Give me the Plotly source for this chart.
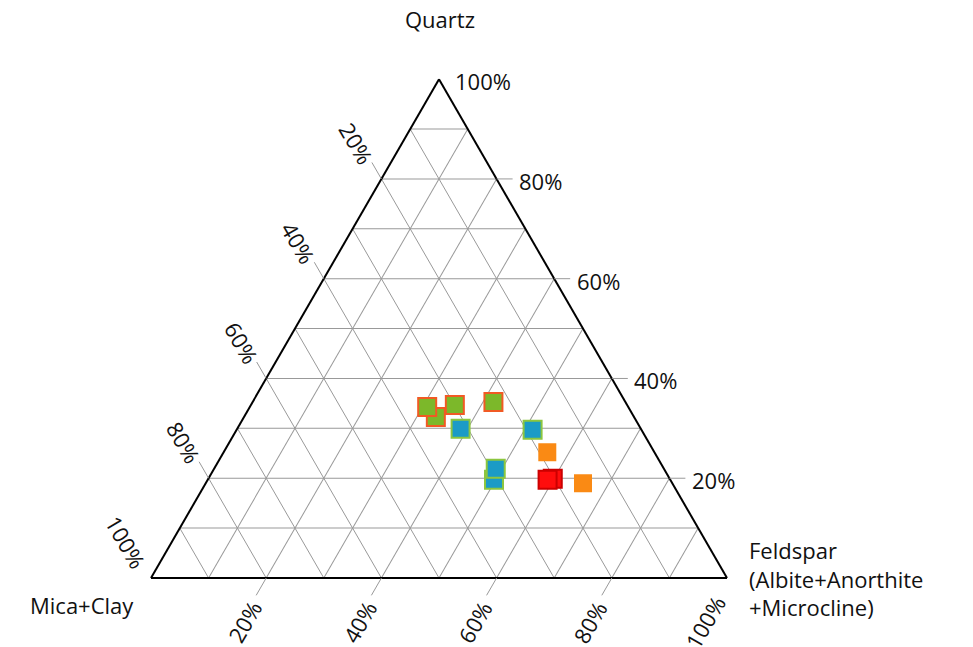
import math
import plotly.graph_objects as go

# ---------------- data (percent) ----------------
# Series 1: green squares with orange-red border
g1_quartz = [32.3, 34.3, 34.7, 35.3]
g1_mica = [34.4, 34.9, 29.9, 22.9]
g1_feld = [33.3, 30.8, 35.4, 41.8]

# Series 2: blue squares with green border
g2_quartz = [19.7, 21.9, 29.9, 29.7]
g2_mica = [30.6, 29.2, 31.3, 18.9]
g2_feld = [49.7, 48.9, 38.8, 51.4]

# Series 3: orange squares
g3_quartz = [25.2, 19.0]
g3_mica = [18.6, 15.5]
g3_feld = [56.2, 65.5]

# Series 4: red squares
g4_quartz = [19.9, 19.7]
g4_mica = [20.3, 21.3]
g4_feld = [59.8, 59.0]

grid_vals = [10, 20, 30, 40, 50, 60, 70, 80, 90]
label_vals = [20, 40, 60, 80, 100]
tick_vals = [20, 40, 60, 80]

FONT = "Open Sans"
TXT = "#111111"
GRID = "#999999"
FS = 22

# ---------------- geometry ----------------
W, H0 = 973, 647
OFF = 8                      # page body offset of the rendered figure
LEFT_X, BASE_Y, SIDE = 151, 578, 576
TRI_H = SIDE * math.sqrt(3) / 2


def px(a, b, c):
    """ternary (percent) -> page pixel of the ternary subplot defined below"""
    return LEFT_X + SIDE * (c + a / 2) / 100, BASE_Y - TRI_H * a / 100


def paper(x, y):
    return (x - OFF) / W, 1 - (y - OFF) / H0


dx0, dy0 = paper(LEFT_X, BASE_Y)
dx1, dy1 = paper(LEFT_X + SIDE, BASE_Y - TRI_H)

fig = go.Figure()


def add_series(q, m, f, fill, border, bw):
    fig.add_trace(go.Scatterternary(
        a=q, b=m, c=f, mode="markers", showlegend=False,
        marker=dict(symbol="square", size=18, color=fill,
                    line=dict(color=border, width=bw)),
        hoverinfo="a+b+c",
    ))


add_series(g1_quartz, g1_mica, g1_feld, "#7cb82a", "#f15a24", 2)
add_series(g2_quartz, g2_mica, g2_feld, "#1b9bc6", "#8cc63f", 2)
add_series(g3_quartz, g3_mica, g3_feld, "#fa8a14", "#fa8a14", 0)
add_series(g4_quartz, g4_mica, g4_feld, "#ff0d0d", "#cc0000", 2)

axis = dict(
    min=0, tickmode="array", tickvals=grid_vals, showticklabels=False, ticks="",
    showgrid=True, gridcolor=GRID, gridwidth=1,
    showline=True, linecolor="black", linewidth=2,
    title=dict(text=""), layer="below traces",
)

# ---- tick marks + tick labels, placed along each side's own grid direction ----
shapes, annotations = [], []
s3 = math.sqrt(3) / 2
sides = [
    # (point on edge for value v, tick direction, tick length, label offset, text angle)
    (lambda v: px(v, 0, 100 - v), (1, 0), 16, (44, 2), 0),            # Quartz, right
    (lambda v: px(100 - v, v, 0), (-0.5, -s3), 19, (-25, -36), 60),   # Mica, left
    (lambda v: px(0, 100 - v, v), (-0.5, s3), 20, (-22, 44), -60),    # Feldspar, bottom
]
for point, (ux, uy), tlen, (ox, oy), ang in sides:
    for v in tick_vals:
        x, y = point(v)
        x0p, y0p = paper(x, y)
        x1p, y1p = paper(x + ux * tlen, y + uy * tlen)
        shapes.append(dict(type="line", xref="paper", yref="paper", x0=x0p, y0=y0p,
                           x1=x1p, y1=y1p, line=dict(color=GRID, width=1)))
    for v in label_vals:
        x, y = point(v)
        lx, ly = paper(x + ox, y + oy)
        annotations.append(dict(text=f"{v}%", x=lx, y=ly, xref="paper", yref="paper",
                                xanchor="center", yanchor="middle", textangle=ang,
                                showarrow=False))

tx, ty = paper(440, 19)
annotations.append(dict(text="Quartz", x=tx, y=ty, xref="paper", yref="paper",
                        yanchor="middle", showarrow=False))
mx, my = paper(28, 605)
annotations.append(dict(text="Mica+Clay", x=mx, y=my, xref="paper", yref="paper",
                        xanchor="left", yanchor="middle", showarrow=False))
fx, fy = paper(747, 578)
annotations.append(dict(text="Feldspar<br>(Albite+Anorthite<br>+Microcline)", x=fx, y=fy,
                        xref="paper", yref="paper", xanchor="left", yanchor="middle",
                        align="left", showarrow=False))

fig.update_layout(
    width=W, height=H0,
    margin=dict(l=0, r=0, t=0, b=0),
    paper_bgcolor="white",
    font=dict(family=FONT, size=FS, color=TXT),
    ternary=dict(
        sum=100,
        bgcolor="white",
        domain=dict(x=[dx0, dx1], y=[dy0, dy1]),
        aaxis=axis, baxis=axis, caxis=axis,
    ),
    shapes=shapes,
    annotations=annotations,
)

fig.write_html("out.html")
